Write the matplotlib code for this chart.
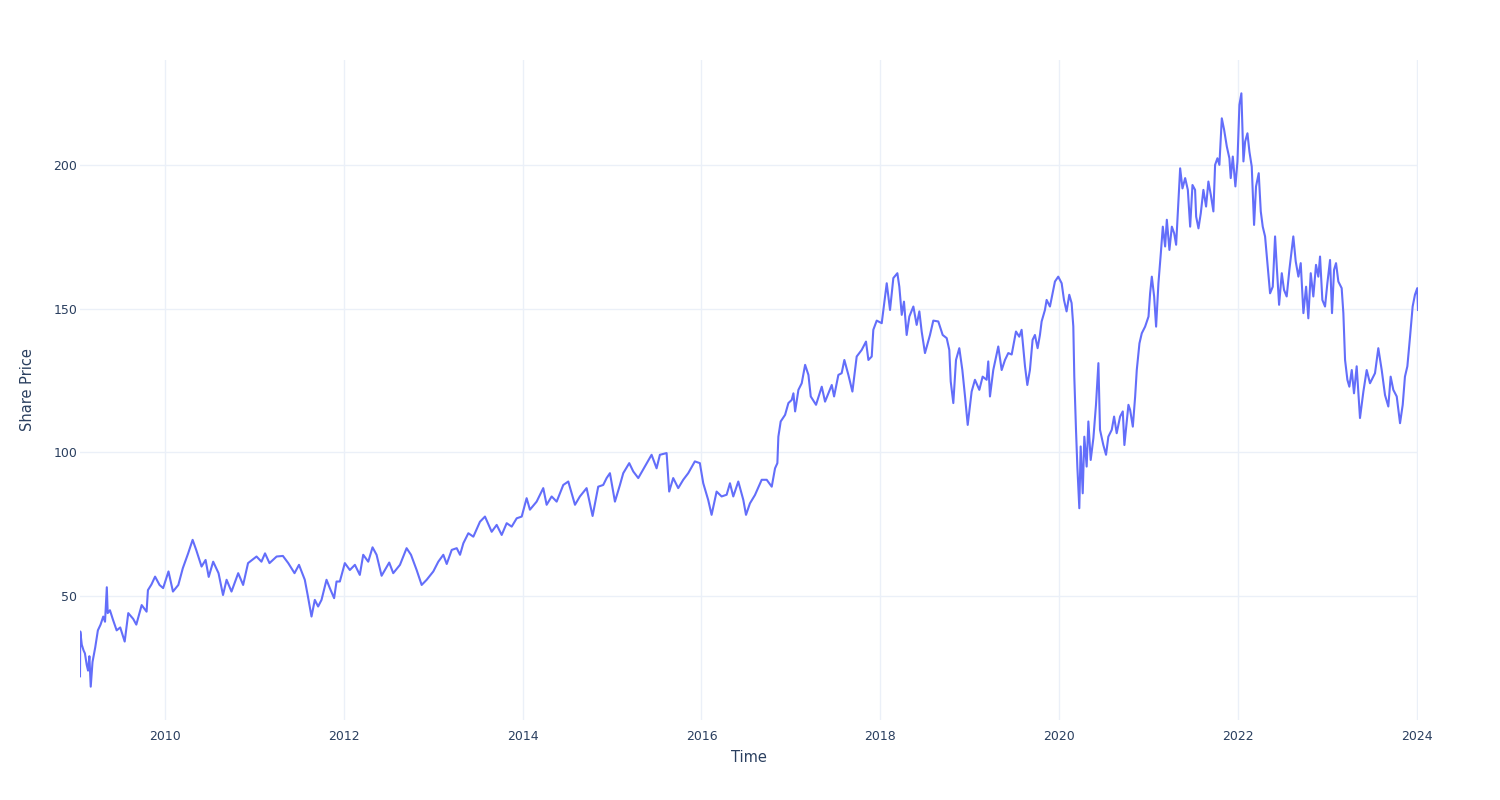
import datetime as dt
import matplotlib
matplotlib.use('Agg')
import matplotlib.pyplot as plt
import matplotlib.dates as mdates

# Share price, as (decimal year, price)
years_2009_2011 = [2009.050, 2009.053, 2009.07, 2009.09, 2009.105, 2009.125, 2009.14,
                   2009.155, 2009.17, 2009.19, 2009.22, 2009.25, 2009.28, 2009.31,
                   2009.33, 2009.35, 2009.36, 2009.385, 2009.42, 2009.46, 2009.50,
                   2009.55, 2009.59, 2009.645, 2009.68, 2009.74, 2009.795, 2009.81,
                   2009.85, 2009.89, 2009.94, 2009.98, 2010.04, 2010.09, 2010.15,
                   2010.20, 2010.26, 2010.31, 2010.35, 2010.41, 2010.455, 2010.49,
                   2010.54, 2010.60, 2010.65, 2010.69, 2010.745, 2010.82, 2010.875,
                   2010.93, 2011.025, 2011.08, 2011.12, 2011.17, 2011.25, 2011.32,
                   2011.38, 2011.45, 2011.50]
price_2009_2011 = [22, 37.6, 33, 31, 30, 26, 24,
                   29, 18.4, 27, 32, 38, 40, 42.8,
                   41, 53, 44, 45, 41.6, 38, 39,
                   34.1, 44, 42, 40, 46.8, 44.5, 52,
                   54, 56.7, 53.8, 52.7, 58.5, 51.5, 53.8,
                   59.6, 64.8, 69.5, 66, 60.2, 62.5, 56.6,
                   61.9, 57.9, 50.3, 55.6, 51.5, 57.9, 53.8,
                   61.4, 63.7, 61.9, 64.8, 61.4, 63.7, 63.9,
                   61.4, 57.9, 60.8]

years_2011_2014 = [2011.565, 2011.60, 2011.64, 2011.677, 2011.714, 2011.752, 2011.808,
                   2011.845, 2011.893, 2011.92, 2011.957, 2012.013, 2012.069, 2012.125,
                   2012.18, 2012.218, 2012.274, 2012.322, 2012.367, 2012.423, 2012.46,
                   2012.508, 2012.553, 2012.628, 2012.702, 2012.751, 2012.814, 2012.87,
                   2012.926, 2013.0, 2013.056, 2013.112, 2013.15, 2013.206, 2013.262,
                   2013.299, 2013.336, 2013.392, 2013.448, 2013.522, 2013.578, 2013.653,
                   2013.709, 2013.765, 2013.821, 2013.877, 2013.933, 2013.989]
price_2011_2014 = [55.6, 49.8, 42.8, 48.6, 46.3, 48.6, 55.6,
                   52.7, 49.2, 55, 55, 61.4, 59, 60.8,
                   57.3, 64.3, 61.9, 66.9, 64.3, 57, 59,
                   61.6, 57.9, 60.8, 66.6, 64.3, 59, 53.8,
                   55.6, 58.5, 61.9, 64.3, 61.1, 66, 66.6,
                   64.3, 68.3, 71.8, 70.6, 75.8, 77.6, 72.3,
                   74.7, 71.2, 75.3, 74.1, 77, 77.6]

years_2014_2016 = [2014.044, 2014.081, 2014.156, 2014.23, 2014.268, 2014.324, 2014.38,
                   2014.454, 2014.51, 2014.585, 2014.64, 2014.715, 2014.782, 2014.845,
                   2014.901, 2014.939, 2014.976, 2015.032, 2015.088, 2015.125, 2015.192,
                   2015.237, 2015.293, 2015.367, 2015.442, 2015.498, 2015.535, 2015.61,
                   2015.639, 2015.684, 2015.74, 2015.796, 2015.852, 2015.926, 2015.982,
                   2016.02, 2016.075, 2016.113, 2016.169, 2016.225, 2016.281, 2016.318,
                   2016.355, 2016.411]
price_2014_2016 = [84, 80, 82.8, 87.5, 81.7, 84.6, 82.8,
                   88.6, 89.8, 81.7, 84.6, 87.5, 77.8, 88,
                   88.6, 91, 92.7, 82.8, 88.6, 92.7, 96.2,
                   93.3, 91, 95, 99.1, 94.4, 99.1, 99.7,
                   86.3, 91, 87.5, 90.4, 92.7, 96.8, 96.2,
                   89.2, 83.4, 78.2, 86.3, 84.6, 85.2, 89.2,
                   84.6, 89.8]

years_2016_2019 = [2016.467, 2016.497, 2016.541, 2016.597, 2016.672, 2016.728, 2016.784,
                   2016.821, 2016.847, 2016.858, 2016.884, 2016.933, 2016.97, 2017.007,
                   2017.026, 2017.045, 2017.082, 2017.119, 2017.157, 2017.194, 2017.22,
                   2017.279, 2017.343, 2017.38, 2017.455, 2017.481, 2017.529, 2017.566,
                   2017.596, 2017.641, 2017.686, 2017.734, 2017.79, 2017.838, 2017.865,
                   2017.902, 2017.92, 2017.958, 2018.014, 2018.07, 2018.107, 2018.144,
                   2018.189, 2018.211, 2018.238, 2018.263, 2018.293, 2018.323, 2018.368,
                   2018.405, 2018.435, 2018.461, 2018.498, 2018.554, 2018.591, 2018.647,
                   2018.696, 2018.741, 2018.77, 2018.786, 2018.815, 2018.845, 2018.882,
                   2018.916, 2018.946, 2018.976, 2019.02, 2019.057, 2019.106]
price_2016_2019 = [83.4, 78.2, 82.2, 85.1, 90.4, 90.4, 88,
                   94.4, 96.2, 105.4, 110.7, 113, 117.1, 118.2,
                   120.5, 114.2, 121.7, 124, 130.4, 126.9, 119.4,
                   116.5, 122.8, 117.6, 123.4, 119.4, 126.9, 127.5,
                   132.1, 126.9, 121.1, 133.3, 135.6, 138.5, 132.1,
                   133.3, 142.6, 145.8, 144.9, 158.8, 149.5, 160.6,
                   162.3, 157.6, 147.8, 152.4, 140.8, 147.2, 150.7,
                   144.3, 149, 142, 134.5, 140.8, 145.8, 145.5,
                   140.8, 139.7, 135.6, 124.6, 117.1, 132.1, 136.2,
                   128.6, 119.4, 109.5, 121.1, 125.2, 121.7]

years_2019_2020 = [2019.143, 2019.188, 2019.206, 2019.225, 2019.262, 2019.318, 2019.356,
                   2019.393, 2019.43, 2019.468, 2019.516, 2019.553, 2019.579, 2019.617,
                   2019.643, 2019.672, 2019.702, 2019.728, 2019.758, 2019.784, 2019.803,
                   2019.84, 2019.859, 2019.896, 2019.915, 2019.952, 2019.989, 2020.027,
                   2020.053, 2020.082, 2020.112, 2020.138, 2020.157, 2020.168, 2020.187,
                   2020.202, 2020.224, 2020.239, 2020.262, 2020.28, 2020.306, 2020.325,
                   2020.351, 2020.381, 2020.41, 2020.437, 2020.455, 2020.492, 2020.522,
                   2020.548, 2020.586, 2020.612, 2020.641, 2020.679, 2020.709, 2020.727,
                   2020.772]
price_2019_2020 = [126.3, 125.2, 131.6, 119.4, 128.6, 136.8, 128.6,
                   132.1, 134.5, 134, 142, 140.2, 142.6, 129.9,
                   123.4, 128.6, 139.1, 140.8, 136.2, 140.8, 145.5,
                   149.5, 153, 150.7, 153.6, 159.4, 161.1, 158.8,
                   153, 149, 154.8, 151.9, 143.8, 126.3, 107.8,
                   95, 80.5, 102, 85.7, 105.4, 95, 110.7,
                   97.3, 104.9, 116.5, 131, 107.8, 102.5, 99.1,
                   105.4, 107.8, 112.4, 106.6, 112.4, 114.2, 102.5,
                   116.5]

years_2020_2024 = [2020.791, 2020.821, 2020.847, 2020.865, 2020.895, 2020.921, 2020.958,
                   2020.996, 2021.014, 2021.033, 2021.059, 2021.081, 2021.107, 2021.134,
                   2021.156, 2021.182, 2021.201, 2021.23, 2021.257, 2021.283, 2021.305,
                   2021.331, 2021.35, 2021.376, 2021.406, 2021.436, 2021.462, 2021.488,
                   2021.517, 2021.529, 2021.555, 2021.581, 2021.61, 2021.64, 2021.666,
                   2021.693, 2021.722, 2021.741, 2021.767, 2021.789, 2021.816, 2021.842,
                   2021.872, 2021.901, 2021.916, 2021.939, 2021.968, 2021.991, 2022.013,
                   2022.035, 2022.058, 2022.077, 2022.103, 2022.125, 2022.151, 2022.177,
                   2022.199, 2022.229, 2022.252, 2022.274, 2022.3, 2022.326, 2022.356,
                   2022.386, 2022.412, 2022.431, 2022.457, 2022.487, 2022.512, 2022.542,
                   2022.572, 2022.616, 2022.643, 2022.673, 2022.699, 2022.729, 2022.759,
                   2022.784, 2022.811, 2022.84, 2022.87, 2022.896, 2022.915, 2022.941,
                   2022.971, 2022.997, 2023.027, 2023.049, 2023.072, 2023.094, 2023.12,
                   2023.157, 2023.176, 2023.195, 2023.221, 2023.243, 2023.27, 2023.295,
                   2023.325, 2023.362, 2023.4, 2023.437, 2023.474, 2023.53, 2023.567,
                   2023.605, 2023.642, 2023.679, 2023.705, 2023.735, 2023.773, 2023.81,
                   2023.84, 2023.865, 2023.892, 2023.922, 2023.951, 2023.977, 2024.003,
                   2024.011]
price_2020_2024 = [114.7, 108.9, 119.4, 128.6, 137.9, 141.4, 143.7,
                   147.2, 155.3, 161.1, 154.2, 143.7, 158.8, 169.3,
                   178.5, 171.6, 180.9, 170.4, 178.5, 176.2, 172.2,
                   187.8, 198.8, 191.8, 195.4, 191.3, 178.5, 193,
                   191.3, 182, 177.9, 183.2, 191.3, 185.5, 194.2,
                   189.6, 183.8, 200, 202.3, 200, 216.2, 212.2,
                   206.4, 202.3, 195.4, 202.9, 192.5, 201.2, 220.9,
                   224.9, 201.2, 208.1, 211, 204.6, 199.4, 179.1,
                   192.5, 197.1, 183.8, 178.5, 175.1, 166, 155.3,
                   157.6, 175.1, 164.6, 151.3, 162.3, 156.5, 154.2,
                   163.5, 175.1, 166.4, 161.1, 165.8, 148.4, 157.6,
                   146.6, 162.3, 154.2, 165.2, 161.1, 168.1, 153,
                   150.7, 158.8, 166.9, 148.4, 163.5, 165.8, 159.4,
                   157.1, 148.4, 132.1, 125.2, 122.8, 128.6, 120.5,
                   129.9, 111.9, 121.1, 128.6, 124, 127.5, 136.2,
                   128.6, 119.9, 115.9, 126.3, 121.7, 119.4, 110.1,
                   116.5, 126.3, 129.9, 140.2, 150.7, 154.8, 157.1,
                   149.5]

y_ticks = [50, 100, 150, 200]
x_tick_years = [2010, 2012, 2014, 2016, 2018, 2020, 2022, 2024]

years = (years_2009_2011 + years_2011_2014 + years_2014_2016
         + years_2016_2019 + years_2019_2020 + years_2020_2024)
price = (price_2009_2011 + price_2011_2014 + price_2014_2016
         + price_2016_2019 + price_2019_2020 + price_2020_2024)


def to_date(y):
    year = int(y)
    start = dt.datetime(year, 1, 1)
    end = dt.datetime(year + 1, 1, 1)
    return start + (end - start) * (y - year)


dates = [to_date(y) for y in years]

plt.rcParams['font.family'] = 'DejaVu Sans'
text_color = '#2a3f5f'
grid_color = '#EBF0F8'

fig = plt.figure(figsize=(15, 8), dpi=100)
ax = fig.add_axes([80 / 1500, 80 / 800, 1338 / 1500, 660 / 800])

ax.plot(dates, price, color='#636efa', linewidth=1.5)

ax.set_xlim(dates[0], dates[-1])
ax.set_ylim(6.8, 236.5)

ax.set_xticks([dt.datetime(y, 1, 1) for y in x_tick_years])
ax.xaxis.set_major_formatter(mdates.DateFormatter('%Y'))
ax.set_yticks(y_ticks)

ax.grid(True, color=grid_color, linewidth=1)
ax.set_axisbelow(True)
for s in ax.spines.values():
    s.set_visible(False)
ax.tick_params(length=0, labelsize=9, colors=text_color)
ax.tick_params(axis='x', pad=7)
ax.tick_params(axis='y', pad=2)

ax.set_xlabel('Time', fontsize=10.5, color=text_color, labelpad=5)
ax.set_ylabel('Share Price', fontsize=10.5, color=text_color, labelpad=13)

fig.savefig('out.png', dpi=100)
